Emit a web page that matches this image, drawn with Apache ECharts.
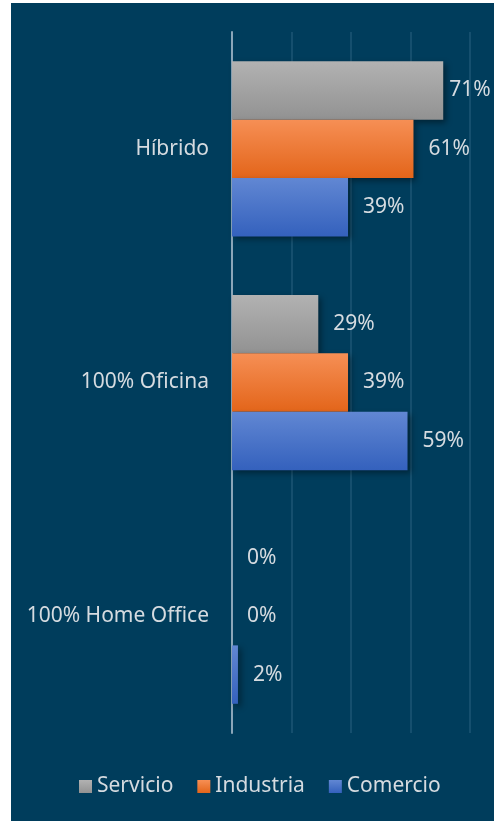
<!DOCTYPE html>
<html>
<head>
<meta charset="utf-8">
<script src="https://cdn.jsdelivr.net/npm/echarts@6/dist/echarts.min.js"></script>
<style>
  body { margin: 0; background: #ffffff; }
  #panel { position: absolute; left: 11px; top: 3px; width: 483px; height: 818px; background: #003d5c; }
  #chart { position: absolute; left: 0; top: 0; width: 494px; height: 821px; }
</style>
</head>
<body>
<div id="panel"></div>
<div id="chart"></div>
<script>
const categories = ['Híbrido', '100% Oficina', '100% Home Office'];
const seriesNames = ['Servicio', 'Industria', 'Comercio'];
const servicio = [71, 29, 0];
const industria = [61, 39, 0];
const comercio = [39, 59, 2];

const gradients = [
  ['#b2b2b2', '#929292'],
  ['#f68f55', '#e3651a'],
  ['#6187d3', '#3461bd']
];

const font = '"Noto Sans", "Open Sans", sans-serif';
const textColor = '#d5dbe0';

function grad(c) {
  return new echarts.graphic.LinearGradient(0, 0, 0, 1, [
    {offset: 0, color: c[0]},
    {offset: 1, color: c[1]}
  ]);
}

function makeSeries(name, values, idx) {
  return {
    name: name,
    type: 'bar',
    barGap: '0%',
    barCategoryGap: '25%',
    itemStyle: {
      color: grad(gradients[idx]),
      shadowBlur: 6,
      shadowOffsetX: 3,
      shadowOffsetY: 3,
      shadowColor: 'rgba(0,0,0,0.4)'
    },
    label: {
      show: true,
      position: 'right',
      distance: 15,
      color: textColor,
      fontFamily: font,
      fontSize: 21,
      formatter: '{c}%'
    },
    // the biggest bar's label is pushed closer to the bar end
    data: values.map(v => v > 65 ? {value: v, label: {distance: 6}} : v)
  };
}

const chart = echarts.init(document.getElementById('chart'));
chart.setOption({
  backgroundColor: 'transparent',
  animation: false,
  grid: {left: 232, right: 24, top: 32, bottom: 88, containLabel: false},
  legend: {
    data: seriesNames,
    icon: 'rect',
    left: 74,
    top: 771,
    itemWidth: 13,
    itemHeight: 13,
    itemGap: 24,
    textStyle: {color: textColor, fontFamily: font, fontSize: 21}
  },
  xAxis: {
    type: 'value',
    min: 0,
    max: 80,
    interval: 20,
    axisLabel: {show: false},
    axisLine: {show: false},
    axisTick: {show: false},
    splitLine: {lineStyle: {color: '#1c5675', width: 1.5}}
  },
  yAxis: {
    type: 'category',
    inverse: true,
    data: categories,
    axisTick: {show: false},
    axisLine: {lineStyle: {color: '#8ba6b9', width: 2}},
    axisLabel: {color: textColor, fontFamily: font, fontSize: 21, margin: 23}
  },
  series: [
    makeSeries(seriesNames[0], servicio, 0),
    makeSeries(seriesNames[1], industria, 1),
    makeSeries(seriesNames[2], comercio, 2)
  ]
});
</script>
</body>
</html>
